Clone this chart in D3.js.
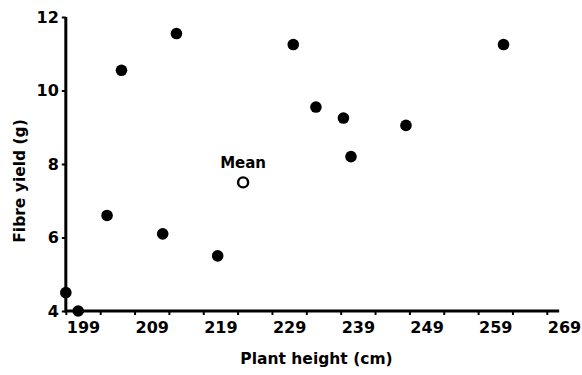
<!DOCTYPE html>
<html><head><meta charset="utf-8">
<script src="https://cdn.jsdelivr.net/npm/d3@7"></script>
<style>
body{margin:0;background:#fff}
svg{display:block}
text{font-family:"DejaVu Sans",sans-serif;font-weight:bold;fill:#000}
</style></head>
<body><svg width="582" height="375"></svg>
<script>
// Data
const heights = [196.5, 198.3, 202.5, 204.6, 210.6, 212.6, 218.6, 229.6, 232.9, 236.9, 238.0, 246.0, 260.2];
const yields  = [4.5,   4.0,   6.6,   10.55, 6.1,   11.55, 5.5,   11.25, 9.55,  9.25,  8.2,   9.05,  11.25];
const meanHeight = 222.3;
const meanYield = 7.5;
const meanLabel = "Mean";
const xTickLabels = [199, 209, 219, 229, 239, 249, 259, 269];
const xTickMarks = [196.5, 201.5, 206.5, 211.5, 216.5, 221.5, 226.5, 231.5, 236.5, 241.5, 246.5, 251.5, 256.5, 261.5, 266.5];
const yTickLabels = [4, 6, 8, 10, 12];
const xTitle = "Plant height (cm)";
const yTitle = "Fibre yield (g)";

const svg = d3.select("svg");
const x = d3.scaleLinear().domain([199, 269]).range([83, 564]);
const y = d3.scaleLinear().domain([4, 12]).range([311, 17]);
const axisX0 = x(196.5), axisX1 = x(268.3);
const axisY = y(4);

// X tick marks
const gxm = svg.append("g").attr("transform", `translate(0,${axisY})`)
  .call(d3.axisBottom(x).tickValues(xTickMarks).tickSize(4).tickFormat(""));
gxm.select(".domain").remove();
gxm.selectAll(".tick line").attr("stroke", "#000").attr("stroke-width", 2);

// X tick labels
const gxl = svg.append("g").attr("transform", `translate(0,${axisY})`)
  .call(d3.axisBottom(x).tickValues(xTickLabels).tickSize(0).tickPadding(11).tickFormat(d3.format("d")));
gxl.select(".domain").remove();
gxl.selectAll("text").style("font-size", "16px").style("font-family", "DejaVu Sans").style("font-weight", "bold");

// Y axis
const gy = svg.append("g").attr("transform", `translate(${axisX0},0)`)
  .call(d3.axisLeft(y).tickValues(yTickLabels).tickSize(4).tickPadding(3).tickFormat(d3.format("d")));
gy.select(".domain").remove();
gy.selectAll(".tick line").attr("stroke", "#000").attr("stroke-width", 2);
gy.selectAll("text").style("font-size", "16px").style("font-family", "DejaVu Sans").style("font-weight", "bold");

// Axis lines
svg.append("line").attr("x1", axisX0).attr("x2", axisX1).attr("y1", axisY).attr("y2", axisY)
  .attr("stroke", "#000").attr("stroke-width", 3);
svg.append("line").attr("x1", axisX0).attr("x2", axisX0).attr("y1", y(12)).attr("y2", axisY + 1.5)
  .attr("stroke", "#000").attr("stroke-width", 3);

// Points
svg.append("g").selectAll("circle").data(heights.map((h, i) => [h, yields[i]])).join("circle")
  .attr("cx", d => x(d[0])).attr("cy", d => y(d[1])).attr("r", 5.8).attr("fill", "#000");

// Mean
svg.append("circle").attr("cx", x(meanHeight)).attr("cy", y(meanYield)).attr("r", 5)
  .attr("fill", "#fff").attr("stroke", "#000").attr("stroke-width", 2.4);
svg.append("text").attr("x", x(meanHeight)).attr("y", y(meanYield) - 14).attr("text-anchor", "middle")
  .style("font-size", "15px").text(meanLabel);

// Titles
svg.append("text").attr("x", 316.5).attr("y", 364).attr("text-anchor", "middle")
  .style("font-size", "15.5px").text(xTitle);
svg.append("text").attr("transform", "translate(25,181) rotate(-90)").attr("text-anchor", "middle")
  .style("font-size", "15.5px").text(yTitle);
</script></body></html>
